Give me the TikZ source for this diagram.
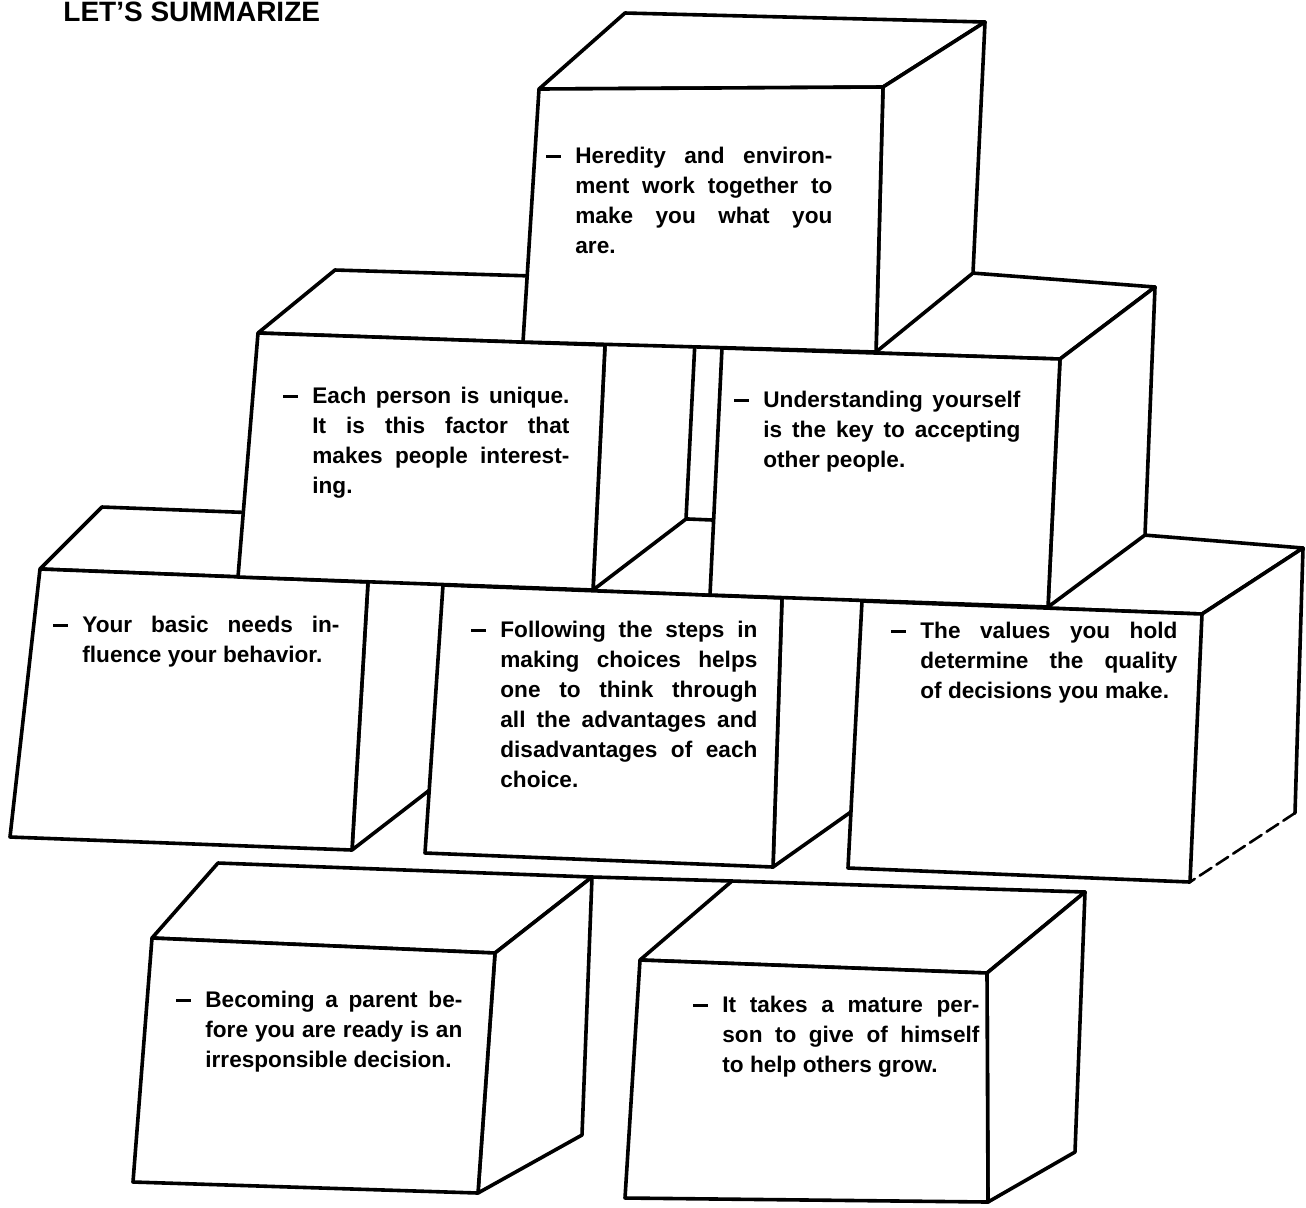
\documentclass[tikz,border=0pt]{standalone}
\usepackage{fontspec}
\setmainfont{Liberation Sans}
\hbadness=10000
\newcommand\jl[1]{\hbox to 128.5pt{#1}}
\newcommand\lastline[1]{\hbox{#1}}
\newcommand\dsh{\llap{\rule[2.4pt]{7.5pt}{1.4pt}\kern7pt}}
\newcommand\cubefaces[1]{%
  \filldraw[boxface] (#1ftl)--(#1btl)--(#1btr)--(#1ftr)--cycle;
  \filldraw[boxface] (#1ftr)--(#1btr)--(#1bbr)--(#1fbr)--cycle;
  \filldraw[boxface] (#1ftl)--(#1ftr)--(#1fbr)--(#1fbl)--cycle;}
\tikzset{
  boxline/.style={line width=1.8pt, line join=round, line cap=round},
  boxface/.style={boxline, fill=white},
  boxtext/.style={anchor=base west, inner sep=0pt, font=\bfseries\fontsize{11.3}{15}\selectfont},
}
\begin{document}
\begin{tikzpicture}[x=0.5pt,y=-0.5pt]
\useasboundingbox (0,0) rectangle (1306,1207);

% ---- coordinates ----
% top box
\coordinate (tftl) at (539,89);  \coordinate (tftr) at (883,87);
\coordinate (tfbr) at (876,352); \coordinate (tfbl) at (523,342);
\coordinate (tbtl) at (625,13);  \coordinate (tbtr) at (985,22);
\coordinate (tbbr) at (973,273);
% each person
\coordinate (eftl) at (258,333); \coordinate (eftr) at (605,345);
\coordinate (efbr) at (593,590); \coordinate (efbl) at (238,577);
\coordinate (ebtl) at (335,270); \coordinate (ebtr) at (698,281);
\coordinate (ebbr) at (686,519);
% understanding
\coordinate (uftl) at (722,348); \coordinate (uftr) at (1060,359);
\coordinate (ufbr) at (1048,607); \coordinate (ufbl) at (710,595);
\coordinate (ubtl) at (815,261); \coordinate (ubtr) at (1155,287);
\coordinate (ubbr) at (1145,535);
% your basic needs
\coordinate (yftl) at (40,569);  \coordinate (yftr) at (368,582);
\coordinate (yfbr) at (352,850); \coordinate (yfbl) at (10,837);
\coordinate (ybtl) at (102,507); \coordinate (ybtr) at (470,521);
\coordinate (ybbr) at (462,765);
% following
\coordinate (fftl) at (443,585); \coordinate (fftr) at (782,598);
\coordinate (ffbr) at (773,867); \coordinate (ffbl) at (425,853);
\coordinate (fbtl) at (545,513); \coordinate (fbtr) at (880,527);
\coordinate (fbbr) at (872,797);
% values
\coordinate (vftl) at (862,601); \coordinate (vftr) at (1202,614);
\coordinate (vfbr) at (1190,882); \coordinate (vfbl) at (848,868);
\coordinate (vbtl) at (960,520); \coordinate (vbtr) at (1303,548);
\coordinate (vbbr) at (1295,813);
% becoming
\coordinate (bftl) at (152,938); \coordinate (bftr) at (495,953);
\coordinate (bfbr) at (478,1193); \coordinate (bfbl) at (133,1182);
\coordinate (bbtl) at (218,863); \coordinate (bbtr) at (592,877);
\coordinate (bbbr) at (582,1135);
% it takes
\coordinate (iftl) at (640,960); \coordinate (iftr) at (987,973);
\coordinate (ifbr) at (988,1202); \coordinate (ifbl) at (625,1198);
\coordinate (ibtl) at (732,881); \coordinate (ibtr) at (1085,892);
\coordinate (ibbr) at (1075,1152);

% ---- third row ----
\cubefaces{y}
\cubefaces{f}
\filldraw[boxface] (vftl)--(vbtl)--(vbtr)--(vftr)--cycle;
\fill[white] (vftr)--(vbtr)--(vbbr)--(vfbr)--cycle;
\draw[boxline] (vftr)--(vbtr)--(vbbr);
\draw[boxline, line width=1.3pt, dash pattern=on 7pt off 3pt] (vbbr)--(vfbr);
\filldraw[boxface] (vftl)--(vftr)--(vfbr)--(vfbl)--cycle;

% ---- second row ----
\cubefaces{e}
\cubefaces{u}

% ---- top ----
\cubefaces{t}

% ---- front row ----
\cubefaces{b}
\cubefaces{i}
\draw[boxline] (bbtr)--(ibtl);

% ---- title ----
\node[anchor=base west, inner sep=0pt, font=\bfseries\fontsize{14}{17}\selectfont] (title) at (63,21) {LET'S SUMMARIZE};

% ---- texts ----
\node[boxtext] (heredity) at (575,163) {\vtop{%
\jl{\dsh Heredity and environ-}
\jl{ment work together to}
\jl{make you what you}
\lastline{are.}}};

\node[boxtext] (unique) at (312,403) {\vtop{%
\jl{\dsh Each person is unique.}
\jl{It is this factor that}
\jl{makes people interest-}
\lastline{ing.}}};

\node[boxtext] (understanding) at (763,407) {\vtop{%
\jl{\dsh Understanding yourself}
\jl{is the key to accepting}
\lastline{other people.}}};

\node[boxtext] (needs) at (82,632) {\vtop{%
\jl{\dsh Your basic needs in-}
\lastline{fluence your behavior.}}};

\node[boxtext] (following) at (500,637) {\vtop{%
\jl{\dsh Following the steps in}
\jl{making choices helps}
\jl{one to think through}
\jl{all the advantages and}
\jl{disadvantages of each}
\lastline{choice.}}};

\node[boxtext] (values) at (920,638) {\vtop{%
\jl{\dsh The values you hold}
\jl{determine the quality}
\lastline{of decisions you make.}}};

\node[boxtext] (parent) at (205,1007) {\vtop{%
\jl{\dsh Becoming a parent be-}
\jl{fore you are ready is an}
\lastline{irresponsible decision.}}};

\node[boxtext] (mature) at (722,1012) {\vtop{%
\jl{\dsh It takes a mature per-}
\jl{son to give of himself}
\lastline{to help others grow.}}};
\end{tikzpicture}
\end{document}
